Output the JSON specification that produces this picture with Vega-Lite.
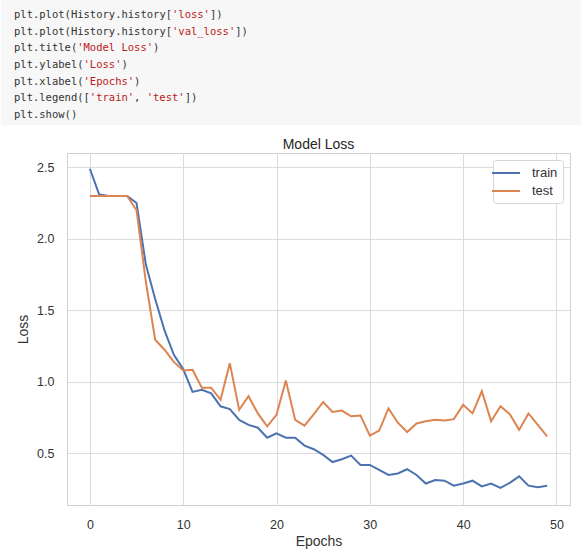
{
  "$schema": "https://vega.github.io/schema/vega-lite/v6.json",
  "padding": 0,
  "background": "white",
  "spacing": 12,
  "config": {
    "view": {"stroke": "#d0d0d0"},
    "axis": {
      "grid": true, "gridColor": "#dcdcdc", "gridWidth": 1, "ticks": false, "domain": false,
      "labelFont": "Liberation Sans", "labelFontSize": 12.5, "labelColor": "#333333",
      "titleFont": "Liberation Sans", "titleFontSize": 14, "titleFontWeight": "normal", "titleColor": "#333333"
    },
    "legend": {
      "labelFont": "Liberation Sans", "labelFontSize": 13, "labelColor": "#333333"
    }
  },
  "resolve": {"scale": {"x": "independent", "y": "independent", "color": "independent"}, "legend": {"color": "independent"}},
  "vconcat": [
    {
      "width": 515,
      "height": 125,
      "view": {"stroke": null},
      "layer": [
        {
          "data": {"values": [{}]},
          "mark": {"type": "rect", "color": "#f7f7f7"},
          "encoding": {
            "x": {"datum": -2.06, "type": "quantitative", "scale": {"domain": [8.386, 89.87], "nice": false, "zero": false}, "axis": null},
            "x2": {"datum": 89.87},
            "y": {"datum": -0.9, "type": "quantitative", "scale": {"domain": [-0.9, 6.6], "nice": false, "zero": false, "reverse": true}, "axis": null},
            "y2": {"datum": 6.6}
          }
        },
        {
          "data": {"values": [
            {"line": 0, "col": 0, "text": "plt.plot(History.history[", "kind": "code"},
            {"line": 0, "col": 25, "text": "'loss'", "kind": "str"},
            {"line": 0, "col": 31, "text": "])", "kind": "code"},
            {"line": 1, "col": 0, "text": "plt.plot(History.history[", "kind": "code"},
            {"line": 1, "col": 25, "text": "'val_loss'", "kind": "str"},
            {"line": 1, "col": 35, "text": "])", "kind": "code"},
            {"line": 2, "col": 0, "text": "plt.title(", "kind": "code"},
            {"line": 2, "col": 10, "text": "'Model Loss'", "kind": "str"},
            {"line": 2, "col": 22, "text": ")", "kind": "code"},
            {"line": 3, "col": 0, "text": "plt.ylabel(", "kind": "code"},
            {"line": 3, "col": 11, "text": "'Loss'", "kind": "str"},
            {"line": 3, "col": 17, "text": ")", "kind": "code"},
            {"line": 4, "col": 0, "text": "plt.xlabel(", "kind": "code"},
            {"line": 4, "col": 11, "text": "'Epochs'", "kind": "str"},
            {"line": 4, "col": 19, "text": ")", "kind": "code"},
            {"line": 5, "col": 0, "text": "plt.legend([", "kind": "code"},
            {"line": 5, "col": 12, "text": "'train'", "kind": "str"},
            {"line": 5, "col": 19, "text": ",", "kind": "code"},
            {"line": 5, "col": 21, "text": "'test'", "kind": "str"},
            {"line": 5, "col": 27, "text": "])", "kind": "code"},
            {"line": 6, "col": 0, "text": "plt.show()", "kind": "code"}
          ]},
          "mark": {"type": "text", "align": "left", "baseline": "middle", "font": "DejaVu Sans Mono", "fontSize": 10.5},
          "encoding": {
            "x": {"field": "col", "type": "quantitative", "scale": {"domain": [8.386, 89.87], "nice": false, "zero": false}, "axis": null},
            "y": {"field": "line", "type": "quantitative", "scale": {"domain": [-0.9, 6.6], "nice": false, "zero": false, "reverse": true}, "axis": null},
            "text": {"field": "text"},
            "color": {"field": "kind", "type": "nominal", "scale": {"domain": ["code", "str"], "range": ["#333333", "#ba2121"]}, "legend": null}
          }
        }
      ]
    },
    {
      "width": 503,
      "height": 352,
      "title": {"text": "Model Loss", "fontSize": 14, "fontWeight": "normal", "font": "Liberation Sans", "color": "#262626", "offset": 1},
      "data": {"values": [
        {"epoch": 0, "series": "train", "loss": 2.49}, {"epoch": 1, "series": "train", "loss": 2.31}, {"epoch": 2, "series": "train", "loss": 2.30}, {"epoch": 3, "series": "train", "loss": 2.30}, {"epoch": 4, "series": "train", "loss": 2.30},
        {"epoch": 5, "series": "train", "loss": 2.25}, {"epoch": 6, "series": "train", "loss": 1.82}, {"epoch": 7, "series": "train", "loss": 1.58}, {"epoch": 8, "series": "train", "loss": 1.36}, {"epoch": 9, "series": "train", "loss": 1.19},
        {"epoch": 10, "series": "train", "loss": 1.09}, {"epoch": 11, "series": "train", "loss": 0.93}, {"epoch": 12, "series": "train", "loss": 0.945}, {"epoch": 13, "series": "train", "loss": 0.92}, {"epoch": 14, "series": "train", "loss": 0.83},
        {"epoch": 15, "series": "train", "loss": 0.81}, {"epoch": 16, "series": "train", "loss": 0.735}, {"epoch": 17, "series": "train", "loss": 0.70}, {"epoch": 18, "series": "train", "loss": 0.68}, {"epoch": 19, "series": "train", "loss": 0.61},
        {"epoch": 20, "series": "train", "loss": 0.64}, {"epoch": 21, "series": "train", "loss": 0.61}, {"epoch": 22, "series": "train", "loss": 0.61}, {"epoch": 23, "series": "train", "loss": 0.555}, {"epoch": 24, "series": "train", "loss": 0.53},
        {"epoch": 25, "series": "train", "loss": 0.49}, {"epoch": 26, "series": "train", "loss": 0.44}, {"epoch": 27, "series": "train", "loss": 0.46}, {"epoch": 28, "series": "train", "loss": 0.485}, {"epoch": 29, "series": "train", "loss": 0.42},
        {"epoch": 30, "series": "train", "loss": 0.42}, {"epoch": 31, "series": "train", "loss": 0.385}, {"epoch": 32, "series": "train", "loss": 0.35}, {"epoch": 33, "series": "train", "loss": 0.36}, {"epoch": 34, "series": "train", "loss": 0.39},
        {"epoch": 35, "series": "train", "loss": 0.35}, {"epoch": 36, "series": "train", "loss": 0.29}, {"epoch": 37, "series": "train", "loss": 0.315}, {"epoch": 38, "series": "train", "loss": 0.31}, {"epoch": 39, "series": "train", "loss": 0.275},
        {"epoch": 40, "series": "train", "loss": 0.29}, {"epoch": 41, "series": "train", "loss": 0.31}, {"epoch": 42, "series": "train", "loss": 0.27}, {"epoch": 43, "series": "train", "loss": 0.29}, {"epoch": 44, "series": "train", "loss": 0.26},
        {"epoch": 45, "series": "train", "loss": 0.295}, {"epoch": 46, "series": "train", "loss": 0.34}, {"epoch": 47, "series": "train", "loss": 0.275}, {"epoch": 48, "series": "train", "loss": 0.265}, {"epoch": 49, "series": "train", "loss": 0.275},
        {"epoch": 0, "series": "test", "loss": 2.30}, {"epoch": 1, "series": "test", "loss": 2.30}, {"epoch": 2, "series": "test", "loss": 2.30}, {"epoch": 3, "series": "test", "loss": 2.30}, {"epoch": 4, "series": "test", "loss": 2.30},
        {"epoch": 5, "series": "test", "loss": 2.20}, {"epoch": 6, "series": "test", "loss": 1.70}, {"epoch": 7, "series": "test", "loss": 1.295}, {"epoch": 8, "series": "test", "loss": 1.225}, {"epoch": 9, "series": "test", "loss": 1.14},
        {"epoch": 10, "series": "test", "loss": 1.08}, {"epoch": 11, "series": "test", "loss": 1.085}, {"epoch": 12, "series": "test", "loss": 0.96}, {"epoch": 13, "series": "test", "loss": 0.96}, {"epoch": 14, "series": "test", "loss": 0.875},
        {"epoch": 15, "series": "test", "loss": 1.13}, {"epoch": 16, "series": "test", "loss": 0.805}, {"epoch": 17, "series": "test", "loss": 0.90}, {"epoch": 18, "series": "test", "loss": 0.78}, {"epoch": 19, "series": "test", "loss": 0.69},
        {"epoch": 20, "series": "test", "loss": 0.77}, {"epoch": 21, "series": "test", "loss": 1.01}, {"epoch": 22, "series": "test", "loss": 0.735}, {"epoch": 23, "series": "test", "loss": 0.695}, {"epoch": 24, "series": "test", "loss": 0.775},
        {"epoch": 25, "series": "test", "loss": 0.86}, {"epoch": 26, "series": "test", "loss": 0.79}, {"epoch": 27, "series": "test", "loss": 0.80}, {"epoch": 28, "series": "test", "loss": 0.76}, {"epoch": 29, "series": "test", "loss": 0.765},
        {"epoch": 30, "series": "test", "loss": 0.625}, {"epoch": 31, "series": "test", "loss": 0.66}, {"epoch": 32, "series": "test", "loss": 0.815}, {"epoch": 33, "series": "test", "loss": 0.715}, {"epoch": 34, "series": "test", "loss": 0.65},
        {"epoch": 35, "series": "test", "loss": 0.71}, {"epoch": 36, "series": "test", "loss": 0.725}, {"epoch": 37, "series": "test", "loss": 0.735}, {"epoch": 38, "series": "test", "loss": 0.73}, {"epoch": 39, "series": "test", "loss": 0.74},
        {"epoch": 40, "series": "test", "loss": 0.84}, {"epoch": 41, "series": "test", "loss": 0.78}, {"epoch": 42, "series": "test", "loss": 0.935}, {"epoch": 43, "series": "test", "loss": 0.725}, {"epoch": 44, "series": "test", "loss": 0.83},
        {"epoch": 45, "series": "test", "loss": 0.775}, {"epoch": 46, "series": "test", "loss": 0.665}, {"epoch": 47, "series": "test", "loss": 0.78}, {"epoch": 48, "series": "test", "loss": 0.70}, {"epoch": 49, "series": "test", "loss": 0.62}
      ]},
      "mark": {"type": "line", "strokeWidth": 2},
      "encoding": {
        "x": {"field": "epoch", "type": "quantitative", "scale": {"domain": [-2.45, 51.45], "nice": false, "zero": false},
              "axis": {"values": [0, 10, 20, 30, 40, 50], "title": "Epochs", "labelPadding": 13, "titlePadding": 4, "labelFlush": false}},
        "y": {"field": "loss", "type": "quantitative", "scale": {"domain": [0.14, 2.6], "nice": false, "zero": false},
              "axis": {"values": [0.5, 1.0, 1.5, 2.0, 2.5], "format": ".1f", "title": ["", "Loss"], "titleLineHeight": 15, "labelPadding": 13, "titlePadding": 6, "labelFlush": false}},
        "color": {"field": "series", "type": "nominal", "sort": null,
                  "scale": {"domain": ["train", "test"], "range": ["#4c72b0", "#dd8452"]},
                  "legend": {"orient": "top-right", "offset": 7, "title": null, "symbolType": "M-2,0H2", "symbolSize": 196, "symbolStrokeWidth": 2,
                             "strokeColor": "#d6d6d6", "fillColor": "white", "cornerRadius": 3, "padding": 5, "labelOffset": 18, "rowPadding": 3}}
      }
    }
  ]
}
